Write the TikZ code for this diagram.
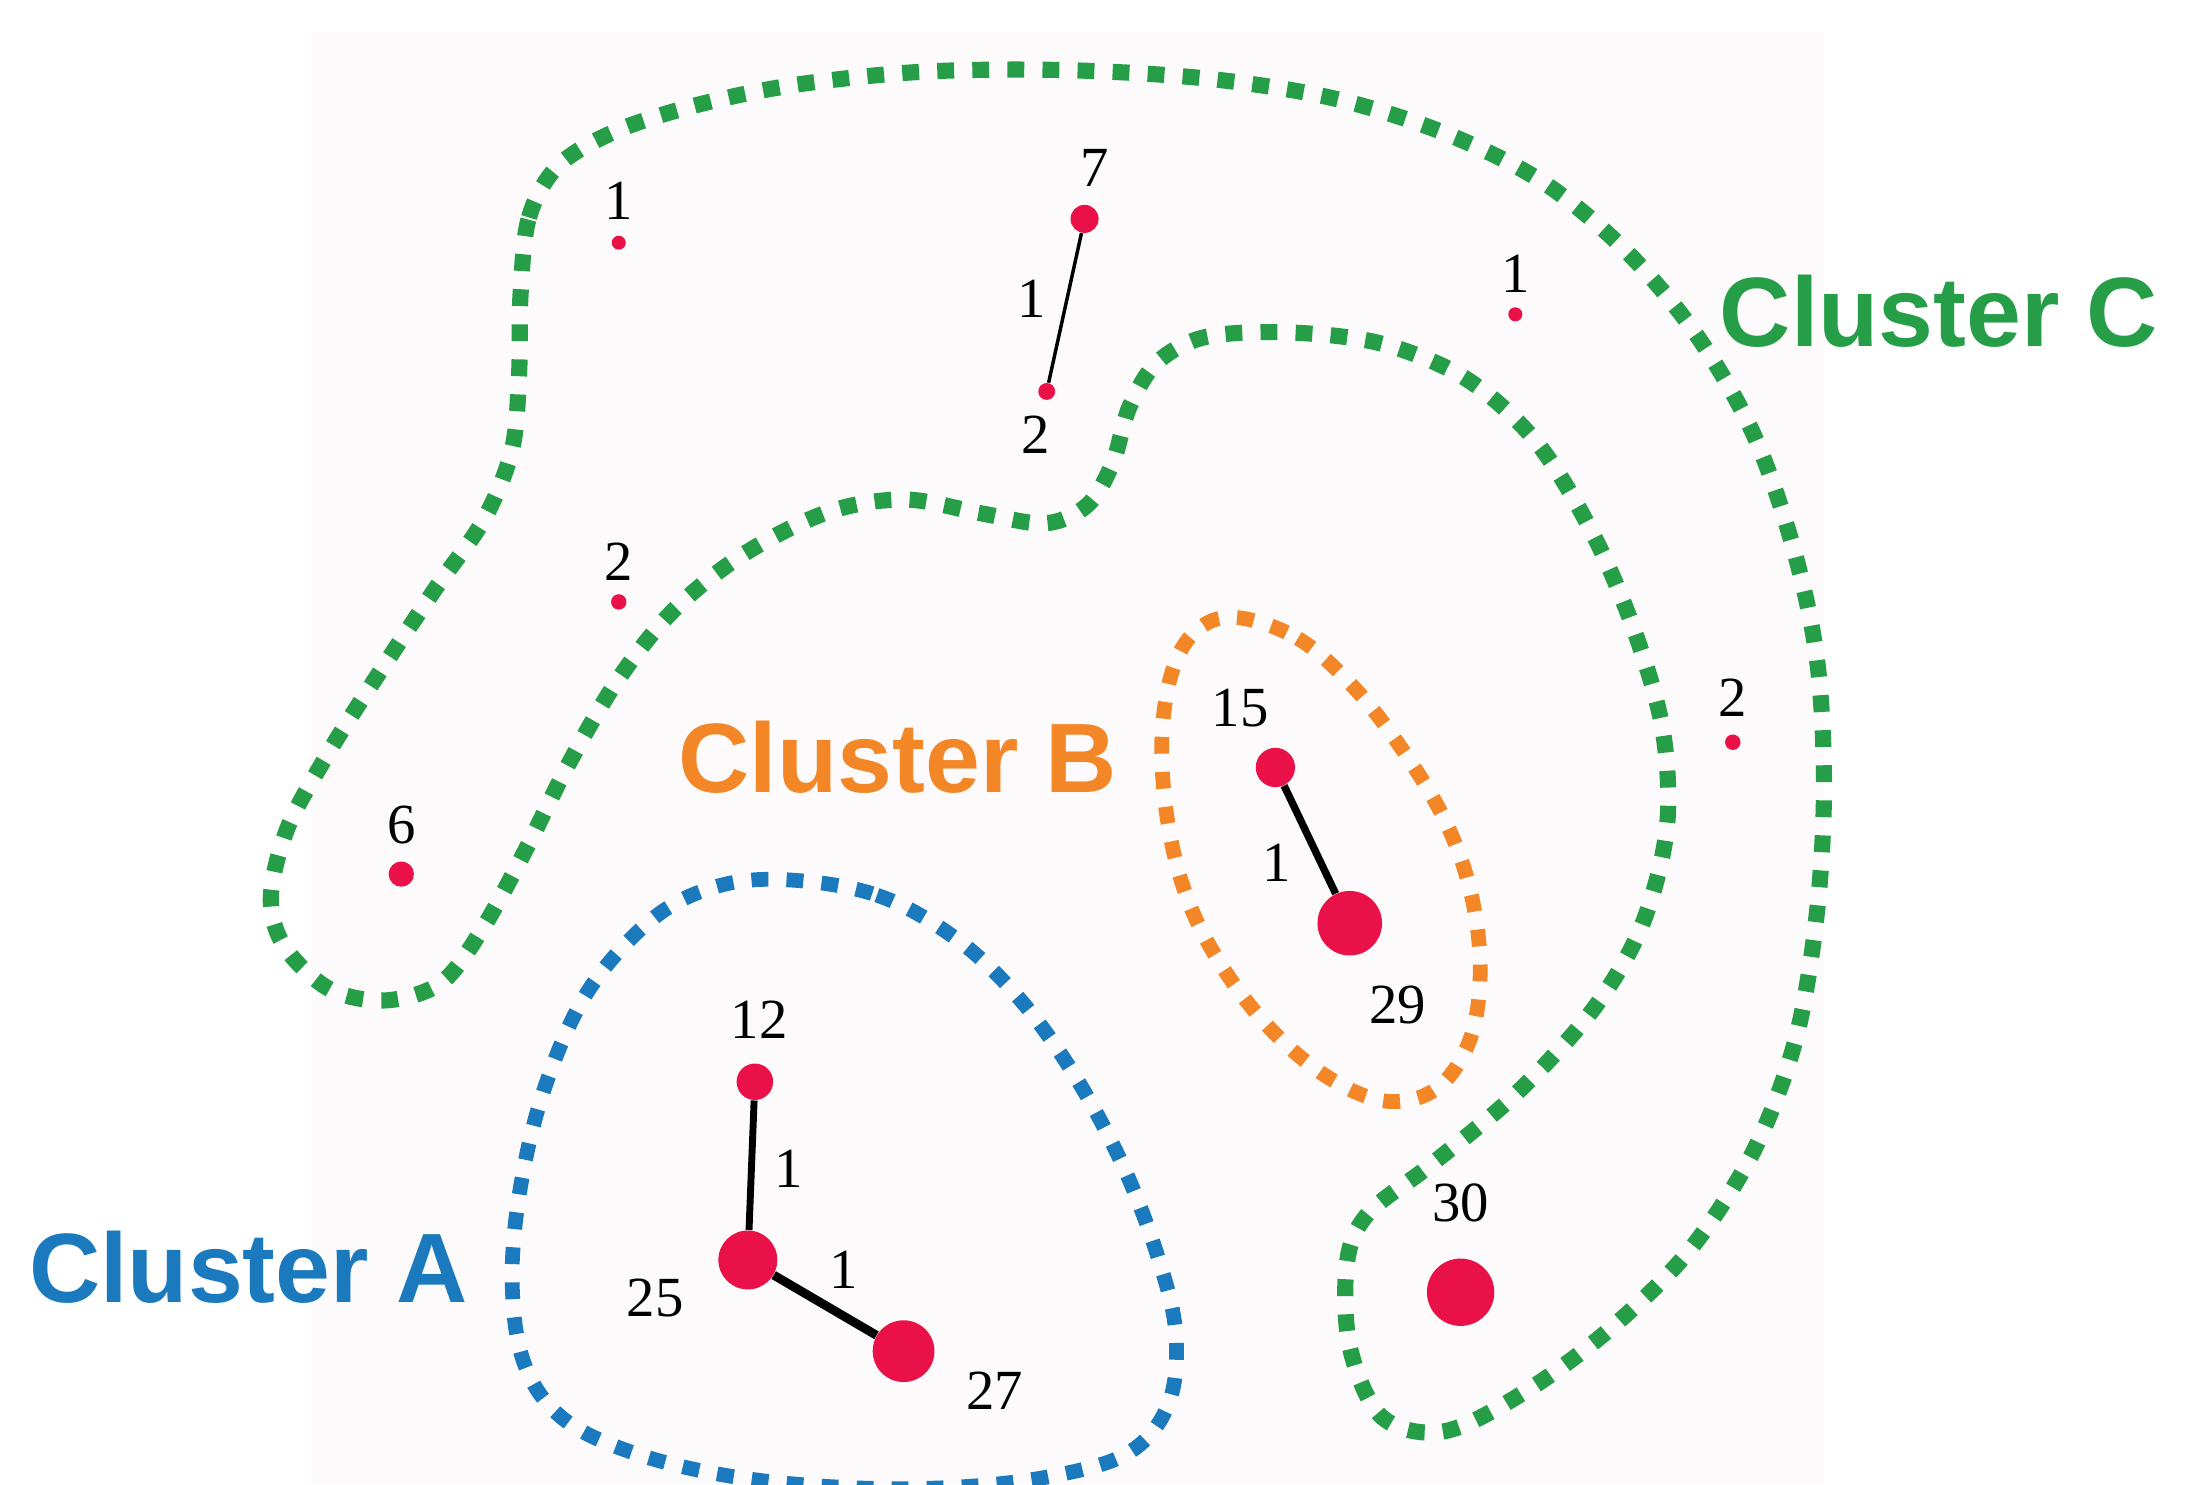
\documentclass[tikz,border=0pt]{standalone}
\usepackage{fontspec}
\setmainfont{Liberation Serif}
\newfontfamily\clusterfont{Liberation Sans}
\definecolor{hullgreen}{RGB}{38,158,72}
\definecolor{hullorange}{RGB}{243,134,38}
\definecolor{hullblue}{RGB}{27,122,190}
\definecolor{dotred}{RGB}{234,16,72}
\definecolor{paper}{RGB}{252,250,250}
\begin{document}
\begin{tikzpicture}[x=0.2mm,y=-0.2mm,
  vertex/.style={circle,fill=dotred,inner sep=0pt,minimum size=#1},
  num/.style={font=\fontsize{23}{25}\selectfont,text=black,inner sep=0pt},
  clabel/.style={font=\clusterfont\bfseries\fontsize{40}{46}\selectfont,inner sep=0pt},
  hull/.style={line width=2.3mm,dash pattern=on 2.4mm off 2.6mm,line cap=butt},
  link/.style={draw=black,line width=#1}]
\useasboundingbox (0,0) rectangle (1568,1058);
\clip (0,0) rectangle (1568,1058);
\fill[paper] (222,23) rectangle (1300,1058);

% cluster C (outer green hull)
\draw[hull,hullgreen] plot[smooth cycle,tension=0.55] coordinates {
  (371,210) (377,155) (398,118) (440,93) (500,74) (570,60) (660,51) (760,50)
  (860,56) (950,70) (1030,95) (1100,130) (1160,180) (1210,240) (1250,310)
  (1278,390) (1295,470) (1300,560) (1295,650) (1280,740) (1250,820) (1205,890)
  (1150,945) (1090,990) (1030,1020) (985,1010) (962,960) (960,900) (975,865)
  (1020,830) (1080,780) (1135,720) (1170,660) (1188,590) (1185,520) (1165,450)
  (1135,380) (1095,315) (1045,270) (985,245) (920,237) (860,240) (825,258)
  (805,290) (793,330) (775,360) (745,373) (700,366) (645,356) (590,365)
  (530,395) (480,435) (440,485) (405,545) (375,605) (345,660) (315,700)
  (275,713) (235,705) (203,675) (193,640) (205,590) (235,535) (270,480)
  (310,420) (345,370) (365,320) (370,265)};

% cluster B (orange hull)
\draw[hull,hullorange,line width=2.1mm] plot[smooth cycle,tension=0.6] coordinates {
  (880,440) (925,455) (965,490) (1000,535) (1030,585) (1048,635) (1055,690)
  (1048,740) (1025,775) (990,785) (950,770) (910,738) (875,695) (848,645)
  (833,590) (828,530) (835,480) (852,450)};

% cluster A (blue hull)
\draw[hull,hullblue,line width=2.1mm] plot[smooth cycle,tension=0.6] coordinates {
  (560,627) (625,638) (680,668) (725,710) (765,765) (800,830) (825,895)
  (838,950) (833,1000) (805,1035) (750,1052) (680,1060) (600,1060) (520,1052)
  (450,1035) (400,1010) (373,970) (365,910) (372,840) (390,770) (420,705)
  (465,655) (510,632)};

% vertices
\node[vertex=2mm]   (v1a) at (441,173) {};
\node[vertex=4mm]   (v7)  at (773,156) {};
\node[vertex=2.4mm] (v2a) at (746,279) {};
\node[vertex=2mm]   (v1b) at (1080,224) {};
\node[vertex=2.2mm] (v2b) at (441,429) {};
\node[vertex=3.6mm] (v6)  at (286,623) {};
\node[vertex=2.2mm] (v2c) at (1235,529) {};
\node[vertex=5.6mm] (v15) at (909,547) {};
\node[vertex=9.2mm] (v29) at (962,658) {};
\node[vertex=5.2mm] (v12) at (538,771) {};
\node[vertex=8.4mm] (v25) at (533,898) {};
\node[vertex=8.8mm] (v27) at (644,963) {};
\node[vertex=9.6mm] (v30) at (1041,921) {};

% edges
\draw[link=1.4pt] (v7) -- (v2a);
\draw[link=3pt] (v15) -- (v29);
\draw[link=2.8pt] (v12) -- (v25);
\draw[link=3.6pt] (v25) -- (v27);

% vertex weights
\node[num] (t1a) at (441,143) {1};
\node[num] (t7)  at (780,120) {7};
\node[num] (t2a) at (738,310) {2};
\node[num] (t1b) at (1080,195) {1};
\node[num] (t2b) at (441,400) {2};
\node[num] (t6)  at (286,588) {6};
\node[num] (t2c) at (1235,497) {2};
\node[num] (t15) at (884,505) {15};
\node[num] (t29) at (996,716) {29};
\node[num] (t12) at (541,727) {12};
\node[num] (t25) at (467,925) {25};
\node[num] (t27) at (709,991) {27};
\node[num] (t30) at (1041,857) {30};

% edge weights
\node[num] (e72)   at (735,213) {1};
\node[num] (e1529) at (910,615) {1};
\node[num] (e1225) at (562,833) {1};
\node[num] (e2527) at (601,905) {1};

% cluster captions
\node[clabel,text=hullgreen]  (capC) at (1382,222) {Cluster C};
\node[clabel,text=hullorange] (capB) at (640,540) {Cluster B};
\node[clabel,text=hullblue]   (capA) at (177,903) {Cluster A};
\end{tikzpicture}
\end{document}
